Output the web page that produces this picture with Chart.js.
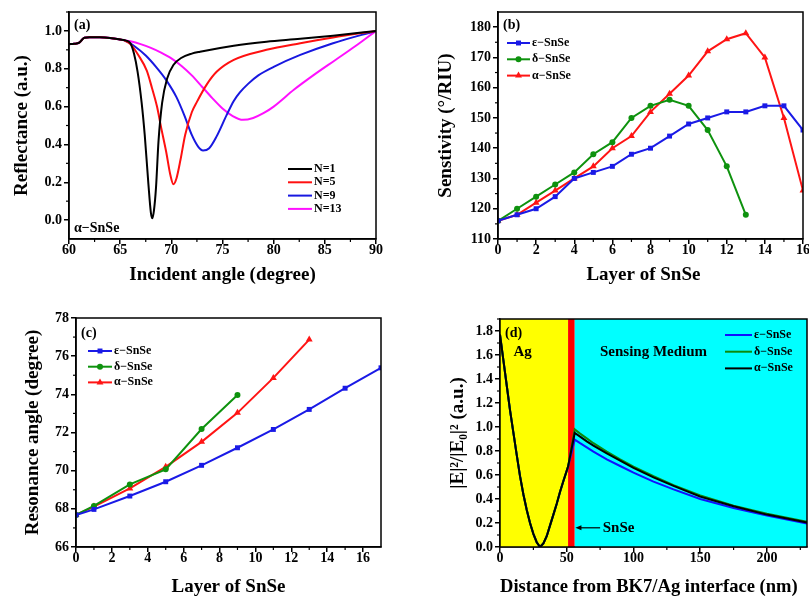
<!DOCTYPE html>
<html>
<head>
<meta charset="utf-8">
<script src="https://cdn.jsdelivr.net/npm/chart.js@4.4.1/dist/chart.umd.min.js"></script>
<style>
  body { margin: 0; background: #fff; width: 809px; height: 601px; overflow: hidden; position: relative; }
  canvas { position: absolute; }
</style>
</head>
<body>
<canvas id="chartA" width="400" height="300" style="left:0;top:0"></canvas>
<canvas id="chartB" width="420" height="300" style="left:400px;top:0"></canvas>
<canvas id="chartC" width="400" height="301" style="left:0;top:300px"></canvas>
<canvas id="chartD" width="409" height="301" style="left:400px;top:300px"></canvas>
<script>
// ---- (a) reflectance vs incident angle ----
const aLabels = ['N=1', 'N=5', 'N=9', 'N=13'];
const aN1X = [60, 60.5, 61, 61.3, 61.5, 62, 63, 64, 65, 65.5, 66.0, 66.35, 66.7, 67.1, 67.4, 67.76, 68.0, 68.15, 68.3, 68.5, 68.75, 69.1, 69.6, 70.2, 71, 72, 72.8, 76.1, 79.3, 82.6, 85.8, 90];
const aN1Y = [0.93, 0.932, 0.938, 0.955, 0.964, 0.966, 0.966, 0.963, 0.955, 0.95, 0.935, 0.88, 0.785, 0.62, 0.45, 0.19, 0.04, 0.01, 0.05, 0.17, 0.42, 0.62, 0.75, 0.82, 0.858, 0.88, 0.89, 0.922, 0.943, 0.958, 0.975, 1.0];
const aN5X = [60, 60.5, 61, 61.3, 61.5, 62, 63, 64, 65, 65.5, 66.0, 66.8, 67.6, 68.1, 68.6, 69.0, 69.5, 69.9, 70.2, 70.5, 70.9, 71.35, 72.0, 72.5, 73.5, 74.45, 76.1, 79.3, 82.6, 85.8, 90];
const aN5Y = [0.93, 0.932, 0.938, 0.955, 0.964, 0.966, 0.966, 0.963, 0.955, 0.948, 0.93, 0.87, 0.79, 0.70, 0.60, 0.49, 0.36, 0.24, 0.19, 0.22, 0.32, 0.45, 0.57, 0.625, 0.72, 0.785, 0.847, 0.9, 0.935, 0.965, 1.0];
const aN9X = [60, 60.5, 61, 61.3, 61.5, 62, 63, 64, 65, 65.5, 66.5, 67.5, 68.5, 69.5, 70.5, 71.3, 72.0, 72.6, 73.1, 73.7, 74.4, 75.4, 76.1, 76.7, 77.5, 78.5, 80, 82.6, 85.8, 90];
const aN9Y = [0.93, 0.932, 0.938, 0.955, 0.964, 0.966, 0.966, 0.963, 0.955, 0.948, 0.915, 0.87, 0.81, 0.74, 0.65, 0.55, 0.45, 0.39, 0.368, 0.38, 0.44, 0.555, 0.63, 0.675, 0.72, 0.765, 0.81, 0.873, 0.935, 1.0];
const aN13X = [60, 60.5, 61, 61.3, 61.5, 62, 63, 64, 65, 66, 67, 68, 69, 70, 71, 72, 73, 74, 75, 76, 77, 78, 79, 80, 82, 84, 86, 88, 90];
const aN13Y = [0.93, 0.932, 0.938, 0.955, 0.964, 0.966, 0.966, 0.963, 0.955, 0.945, 0.93, 0.91, 0.885, 0.855, 0.815, 0.765, 0.705, 0.645, 0.59, 0.55, 0.53, 0.54, 0.565, 0.6, 0.69, 0.77, 0.845, 0.92, 1.0];
const aXTicks = [60, 65, 70, 75, 80, 85, 90];
const aYTicks = [0.0, 0.2, 0.4, 0.6, 0.8, 1.0];

// ---- (b) sensitivity vs layers ----
const bX = [0, 1, 2, 3, 4, 5, 6, 7, 8, 9, 10, 11, 12, 13, 14, 15, 16];
const bEps = [116, 118, 120, 124, 130, 132, 134, 138, 140, 144, 148, 150, 152, 152, 154, 154, 146];
const bDelta = [116, 120, 124, 128, 132, 138, 142, 150, 154, 156, 154, 146, 134, 118];
const bAlpha = [116, 118, 122, 126, 130, 134, 140, 144, 152, 158, 164, 172, 176, 178, 170, 150, 126];
const bXTicks = [0, 2, 4, 6, 8, 10, 12, 14, 16];
const bYTicks = [110, 120, 130, 140, 150, 160, 170, 180];

// ---- (c) resonance angle vs layers ----
const cEpsX = [0, 1, 3, 5, 7, 9, 11, 13, 15, 17];
const cEps = [67.68, 67.97, 68.67, 69.42, 70.28, 71.2, 72.16, 73.21, 74.32, 75.39];
const cDeltaX = [0, 1, 3, 5, 7, 9];
const cDelta = [67.68, 68.15, 69.28, 70.07, 72.18, 73.96];
const cAlphaX = [0, 1, 3, 5, 7, 9, 11, 13];
const cAlpha = [67.68, 68.12, 69.07, 70.2, 71.51, 73.03, 74.86, 76.87];
const cXTicks = [0, 2, 4, 6, 8, 10, 12, 14, 16];
const cYTicks = [66, 68, 70, 72, 74, 76, 78];

// ---- (d) field profile ----
const dX = [0, 2.5, 5, 7.5, 10, 12.5, 15, 17.5, 20, 22.5, 25, 27.5, 30, 32.5, 35, 37.5, 40, 42.5, 45, 47.5, 51, 53.5, 56, 60, 65, 70, 80, 90, 100, 115, 130, 150, 175, 200, 230];
const dEps = [1.77, 1.56, 1.35, 1.14, 0.955, 0.77, 0.59, 0.44, 0.31, 0.2, 0.11, 0.04, 0.0, 0.03, 0.09, 0.18, 0.27, 0.36, 0.46, 0.55, 0.67, 0.78, 0.895, 0.865, 0.83, 0.795, 0.73, 0.675, 0.62, 0.545, 0.48, 0.40, 0.325, 0.262, 0.195];
const dDelta = [1.77, 1.56, 1.35, 1.14, 0.955, 0.77, 0.59, 0.44, 0.31, 0.2, 0.11, 0.04, 0.0, 0.03, 0.09, 0.18, 0.27, 0.36, 0.46, 0.55, 0.67, 0.825, 0.98, 0.945, 0.905, 0.865, 0.795, 0.73, 0.67, 0.59, 0.515, 0.43, 0.345, 0.278, 0.21];
const dAlpha = [1.77, 1.56, 1.35, 1.14, 0.955, 0.77, 0.59, 0.44, 0.31, 0.2, 0.11, 0.04, 0.0, 0.03, 0.09, 0.18, 0.27, 0.36, 0.46, 0.55, 0.67, 0.81, 0.95, 0.92, 0.88, 0.845, 0.78, 0.72, 0.66, 0.58, 0.51, 0.42, 0.34, 0.27, 0.205];
const dRegionFrom = [0, 51, 56];
const dRegionTo = [51, 56, 230];
const dRegionColors = ['#ffff00', '#ff0000', '#00ffff'];
const dXTicks = [0, 50, 100, 150, 200];
const dYTicks = [0.0, 0.2, 0.4, 0.6, 0.8, 1.0, 1.2, 1.4, 1.6, 1.8];

const phaseLabels = ['ε−SnSe', 'δ−SnSe', 'α−SnSe'];
const SERIF = '"Liberation Serif", "Times New Roman", serif';

Chart.defaults.font.family = SERIF;
Chart.defaults.font.weight = 'bold';
Chart.defaults.color = '#000';
Chart.defaults.animation = false;
Chart.defaults.events = [];
Chart.defaults.plugins.legend.display = false;
Chart.defaults.plugins.tooltip.enabled = false;

const pts = (xs, ys) => ys.map((y, i) => ({ x: xs[i], y }));

function axis(min, max, ticks, digits, title, titlePad, size) {
    return {
        type: 'linear', min, max,
        afterBuildTicks: s => { s.ticks = ticks.map(v => ({ value: v })); },
        afterFit: s => { if (s.isHorizontal()) s.height = size; else s.width = size; },
        grid: { drawOnChartArea: false, drawTicks: true, tickLength: 5, color: '#000', lineWidth: 1.5 },
        border: { display: true, color: '#000', width: 1.5 },
        ticks: { color: '#000', font: { size: 14, weight: 'bold' }, padding: 2, autoSkip: false, maxRotation: 0,
                 callback: v => v.toFixed(digits) },
        title: { display: true, text: title, color: '#000', font: { size: 19, weight: 'bold' }, padding: titlePad }
    };
}
function xAxis() {
    const a = axis.apply(null, arguments);
    a.ticks.padding = -2;
    return a;
}

// box round the plot + minor ticks
const framePlugin = {
    id: 'frame',
    afterDraw(chart) {
        const { ctx, chartArea: ca, scales } = chart;
        ctx.save();
        ctx.strokeStyle = '#000';
        ctx.lineWidth = 1.5;
        ctx.strokeRect(ca.left, ca.top, ca.right - ca.left, ca.bottom - ca.top);
        ctx.lineWidth = 1.2;
        ['x', 'y'].forEach(id => {
            const s = scales[id];
            const t = s.ticks.map(k => k.value);
            const step = t[1] - t[0];
            for (let v = t[0] - step / 2; v < s.max; v += step) {
                if (v <= s.min || v >= s.max) continue;
                const p = s.getPixelForValue(v);
                ctx.beginPath();
                if (id === 'x') { ctx.moveTo(p, ca.bottom); ctx.lineTo(p, ca.bottom + 3); }
                else { ctx.moveTo(ca.left, p); ctx.lineTo(ca.left - 3, p); }
                ctx.stroke();
            }
        });
        ctx.restore();
    }
};

function drawMarker(ctx, style, x, y, r, color) {
    ctx.fillStyle = color;
    ctx.beginPath();
    if (style === 'rect') {
        const h = r * Math.SQRT2 / 2;
        ctx.rect(x - h, y - h, 2 * h, 2 * h);
    } else if (style === 'triangle') {
        ctx.moveTo(x, y - r);
        ctx.lineTo(x + r * 0.866, y + r * 0.5);
        ctx.lineTo(x - r * 0.866, y + r * 0.5);
        ctx.closePath();
    } else {
        ctx.arc(x, y, r, 0, Math.PI * 2);
    }
    ctx.fill();
}

// hand-placed legend and panel texts
const notePlugin = {
    id: 'notes',
    afterDraw(chart, args, opts) {
        const { ctx, chartArea: ca, scales } = chart;
        ctx.save();
        ctx.textBaseline = 'middle';
        const lg = opts.legend;
        if (lg) {
            ctx.font = 'bold 12px ' + SERIF;
            chart.data.datasets.forEach((ds, i) => {
                const x0 = ca.left + lg.dx, y = ca.top + lg.dy + i * lg.gap;
                ctx.strokeStyle = ds.borderColor;
                ctx.lineWidth = 2;
                ctx.beginPath(); ctx.moveTo(x0, y); ctx.lineTo(x0 + lg.len, y); ctx.stroke();
                if (lg.markers) drawMarker(ctx, ds.pointStyle, x0 + lg.len / 2, y, ds.pointRadius, ds.borderColor);
                ctx.fillStyle = '#000';
                ctx.textAlign = 'left';
                ctx.fillText(ds.label, x0 + lg.len + 2, y);
            });
        }
        (opts.texts || []).forEach(t => {
            ctx.font = 'bold ' + t.size + 'px ' + SERIF;
            ctx.fillStyle = '#000';
            ctx.textAlign = t.align || 'left';
            const x = t.vx !== undefined ? scales.x.getPixelForValue(t.vx) : ca.left + t.dx;
            const y = t.vy !== undefined ? scales.y.getPixelForValue(t.vy) : ca.top + t.dy;
            ctx.fillText(t.text, x, y);
        });
        if (opts.arrow) {
            const a = opts.arrow;
            const x1 = scales.x.getPixelForValue(a.from), x2 = scales.x.getPixelForValue(a.to);
            const y = scales.y.getPixelForValue(a.y);
            ctx.strokeStyle = '#000'; ctx.fillStyle = '#000'; ctx.lineWidth = 1.2;
            ctx.beginPath(); ctx.moveTo(x1 + 4, y); ctx.lineTo(x2, y); ctx.stroke();
            ctx.beginPath(); ctx.moveTo(x1, y); ctx.lineTo(x1 + 6, y - 2.5); ctx.lineTo(x1 + 6, y + 2.5); ctx.closePath(); ctx.fill();
        }
        ctx.restore();
    }
};

// coloured layer bands behind the curves of panel (d)
const bandPlugin = {
    id: 'bands',
    beforeDatasetsDraw(chart) {
        const { ctx, chartArea: ca, scales } = chart;
        ctx.save();
        dRegionFrom.forEach((from, i) => {
            const x1 = scales.x.getPixelForValue(from), x2 = scales.x.getPixelForValue(dRegionTo[i]);
            ctx.fillStyle = dRegionColors[i];
            ctx.fillRect(x1, ca.top, x2 - x1, ca.bottom - ca.top);
        });
        ctx.restore();
    }
};

function curve(label, xs, ys, color, extra) {
    return Object.assign({ label, data: pts(xs, ys), borderColor: color, backgroundColor: color,
        borderWidth: 2, pointRadius: 0, fill: false }, extra || {});
}
function marked(label, xs, ys, color, style, r) {
    return { label, data: pts(xs, ys), borderColor: color, backgroundColor: color,
        pointBackgroundColor: color, pointBorderColor: color, pointBorderWidth: 0,
        borderWidth: 2, pointStyle: style, pointRadius: r, tension: 0, fill: false };
}

// (a)
new Chart(document.getElementById('chartA'), {
    type: 'line',
    data: { datasets: [
        curve(aLabels[0], aN1X, aN1Y, '#000000', { cubicInterpolationMode: 'monotone' }),
        curve(aLabels[1], aN5X, aN5Y, '#ff1010', { cubicInterpolationMode: 'monotone' }),
        curve(aLabels[2], aN9X, aN9Y, '#1818e0', { cubicInterpolationMode: 'monotone' }),
        curve(aLabels[3], aN13X, aN13Y, '#ff10ff', { cubicInterpolationMode: 'monotone' })
    ] },
    options: {
        responsive: false,
        layout: { padding: { left: 0, right: 24, top: 12, bottom: 0 } },
        scales: {
            x: xAxis(60, 90, aXTicks, 0, 'Incident angle (degree)', { bottom: 14 }, 61),
            y: axis(-0.1, 1.1, aYTicks, 1, 'Reflectance (a.u.)', { top: 10.5 }, 69)
        },
        plugins: { notes: {
            legend: { dx: 219, dy: 157, gap: 13.3, len: 24 },
            texts: [
                { text: '(a)', size: 14, dx: 5, dy: 13 },
                { text: 'α−SnSe', size: 14, dx: 5, dy: 216 }
            ]
        } }
    },
    plugins: [framePlugin, notePlugin]
});

// (b)
new Chart(document.getElementById('chartB'), {
    type: 'line',
    data: { datasets: [
        marked(phaseLabels[0], bX, bEps, '#1a1ae6', 'rect', 3.5),
        marked(phaseLabels[1], bX, bDelta, '#0e920e', 'circle', 3),
        marked(phaseLabels[2], bX, bAlpha, '#ff1414', 'triangle', 4)
    ] },
    options: {
        responsive: false,
        layout: { padding: { left: 0, right: 17, top: 12, bottom: 0 } },
        scales: {
            x: xAxis(0, 16, bXTicks, 0, 'Layer of SnSe   ', { bottom: 14 }, 61),
            y: axis(110, 185, bYTicks, 0, 'Senstivity (°/RIU)', { top: 35 }, 98)
        },
        plugins: { notes: {
            legend: { dx: 9, dy: 31, gap: 16.3, len: 23, markers: true },
            texts: [{ text: '(b)', size: 14, dx: 5, dy: 13 }]
        } }
    },
    plugins: [framePlugin, notePlugin]
});

// (c)
new Chart(document.getElementById('chartC'), {
    type: 'line',
    data: { datasets: [
        marked(phaseLabels[0], cEpsX, cEps, '#1a1ae6', 'rect', 3.5),
        marked(phaseLabels[1], cDeltaX, cDelta, '#0e920e', 'circle', 3),
        marked(phaseLabels[2], cAlphaX, cAlpha, '#ff1414', 'triangle', 4)
    ] },
    options: {
        responsive: false,
        layout: { padding: { left: 0, right: 19, top: 18, bottom: 0 } },
        scales: {
            x: xAxis(0, 17, cXTicks, 0, 'Layer of SnSe', { bottom: 3 }, 54),
            y: axis(66, 78, cYTicks, 0, 'Resonance angle (degree)', { top: 21.5 }, 76)
        },
        plugins: { notes: {
            legend: { dx: 12, dy: 33, gap: 15.7, len: 24, markers: true },
            texts: [{ text: '(c)', size: 14, dx: 5, dy: 15 }]
        } }
    },
    plugins: [framePlugin, notePlugin]
});

// (d)
new Chart(document.getElementById('chartD'), {
    type: 'line',
    data: { datasets: [
        curve(phaseLabels[0], dX, dEps, '#1010ff', { tension: 0, order: 2 }),
        curve(phaseLabels[1], dX, dDelta, '#0c8a0c', { tension: 0, order: 1 }),
        curve(phaseLabels[2], dX, dAlpha, '#000000', { tension: 0, order: 0 })
    ] },
    options: {
        responsive: false,
        layout: { padding: { left: 0, right: 2, top: 19, bottom: 0 } },
        scales: {
            x: xAxis(0, 230, dXTicks, 0, 'Distance from BK7/Ag interface (nm)  ', { bottom: 3 }, 54),
            y: axis(0, 1.9, dYTicks, 1, '|E|²/|E₀|² (a.u.)', { top: 46.5 }, 100)
        },
        plugins: { notes: {
            legend: { dx: 225, dy: 16, gap: 16.7, len: 27 },
            texts: [
                { text: '(d)', size: 14, dx: 5, dy: 14 },
                { text: 'Ag', size: 15, vx: 17, vy: 1.62, align: 'center' },
                { text: 'Sensing Medium', size: 15, vx: 115, vy: 1.62, align: 'center' },
                { text: 'SnSe', size: 15, vx: 77, vy: 0.16 }
            ],
            arrow: { from: 56.5, to: 75, y: 0.16 }
        } }
    },
    plugins: [bandPlugin, framePlugin, notePlugin]
});
</script>
</body>
</html>
